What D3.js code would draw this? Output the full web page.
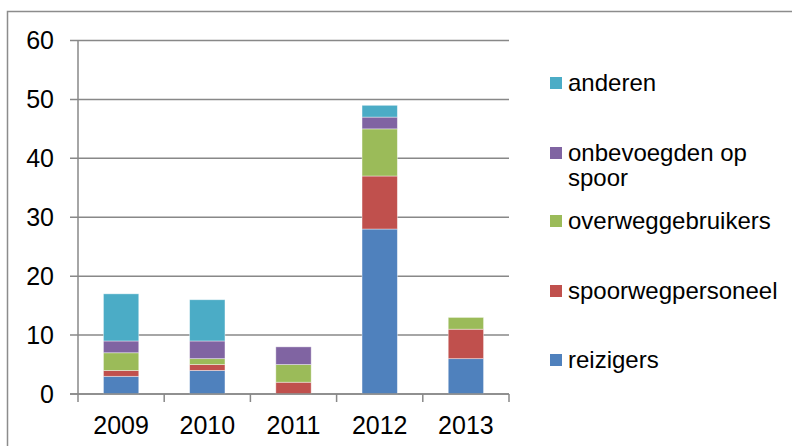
<!DOCTYPE html>
<html>
<head>
<meta charset="utf-8">
<script src="https://cdn.jsdelivr.net/npm/d3@7"></script>
<style>
  body { margin: 0; background: #fff; }
  svg { display: block; font-family: "Liberation Sans", Arial, sans-serif; }
</style>
</head>
<body>
<svg id="chart" width="792" height="446"></svg>
<script>
// data
const years = ["2009", "2010", "2011", "2012", "2013"];
const seriesNames = ["reizigers", "spoorwegpersoneel", "overweggebruikers", "onbevoegden op spoor", "anderen"];
const reizigers = [3, 4, 0, 28, 6];
const spoorwegpersoneel = [1, 1, 2, 9, 5];
const overweggebruikers = [3, 1, 3, 8, 2];
const onbevoegden = [2, 3, 3, 2, 0];
const anderen = [8, 7, 0, 2, 0];
const yTicks = [0, 10, 20, 30, 40, 50, 60];
const colors = ["#4F81BD", "#C0504D", "#9BBB59", "#8064A2", "#4BACC6"];

const rows = years.map((y, i) => ({
  year: y,
  "reizigers": reizigers[i],
  "spoorwegpersoneel": spoorwegpersoneel[i],
  "overweggebruikers": overweggebruikers[i],
  "onbevoegden op spoor": onbevoegden[i],
  "anderen": anderen[i]
}));

const svg = d3.select("#chart");
const fs = 24;     // legend
const axFs = 25;   // axis labels

// outer frame (runs off the right and bottom)
svg.append("rect")
  .attr("x", 7.5).attr("y", 11.5)
  .attr("width", 800).attr("height", 450)
  .attr("fill", "none").attr("stroke", "#8c8c8c").attr("stroke-width", 1.5);

const x = d3.scaleBand().domain(years).range([78, 509]).paddingInner(0.59).paddingOuter(0.295);
const y = d3.scaleLinear().domain([0, 60]).range([394, 40.5]);

// gridlines
svg.append("g")
  .selectAll("line")
  .data(yTicks)
  .join("line")
  .attr("x1", 70).attr("x2", 509)
  .attr("y1", d => y(d)).attr("y2", d => y(d))
  .attr("stroke", "#888").attr("stroke-width", 1.5);

// stacked bars
const stack = d3.stack().keys(seriesNames);
const layers = stack(rows);
svg.append("g")
  .selectAll("g")
  .data(layers)
  .join("g")
  .attr("fill", (d, i) => colors[i])
  .selectAll("rect")
  .data(d => d.filter(p => p[1] - p[0] > 0))
  .join("rect")
  .attr("x", d => x(d.data.year))
  .attr("width", x.bandwidth())
  .attr("y", d => y(d[1]))
  .attr("height", d => y(d[0]) - y(d[1]))
  .attr("stroke", "rgba(255,255,255,0.5)")
  .attr("stroke-width", 0.8);

// y axis
svg.append("line")
  .attr("x1", 78).attr("x2", 78).attr("y1", y(60)).attr("y2", 394)
  .attr("stroke", "#888").attr("stroke-width", 1.5);
svg.append("g")
  .selectAll("text")
  .data(yTicks)
  .join("text")
  .attr("x", 54).attr("y", d => y(d))
  .attr("dy", "0.35em")
  .attr("text-anchor", "end")
  .attr("font-size", axFs)
  .attr("fill", "#000")
  .text(d => d);

// x axis
svg.append("line")
  .attr("x1", 70).attr("x2", 509).attr("y1", 394).attr("y2", 394)
  .attr("stroke", "#888").attr("stroke-width", 1.5);
const edges = years.map((d, i) => 78 + i * (431 / 5)).concat([509]);
svg.append("g")
  .selectAll("line")
  .data(edges)
  .join("line")
  .attr("x1", d => d).attr("x2", d => d).attr("y1", 394).attr("y2", 402)
  .attr("stroke", "#888").attr("stroke-width", 1.5);
svg.append("g")
  .selectAll("text")
  .data(years)
  .join("text")
  .attr("x", d => x(d) + x.bandwidth() / 2)
  .attr("y", 434)
  .attr("text-anchor", "middle")
  .attr("font-size", axFs)
  .attr("fill", "#000")
  .text(d => d);

// legend (top to bottom: reverse order)
const legendItems = [
  { name: "anderen", lines: ["anderen"], c: colors[4], y: 83 },
  { name: "onbevoegden op spoor", lines: ["onbevoegden op", "spoor"], c: colors[3], y: 153 },
  { name: "overweggebruikers", lines: ["overweggebruikers"], c: colors[2], y: 221 },
  { name: "spoorwegpersoneel", lines: ["spoorwegpersoneel"], c: colors[1], y: 291 },
  { name: "reizigers", lines: ["reizigers"], c: colors[0], y: 360 }
];
const lg = svg.append("g").selectAll("g").data(legendItems).join("g");
lg.append("rect")
  .attr("x", 550).attr("y", d => d.y - 6)
  .attr("width", 12).attr("height", 12)
  .attr("fill", d => d.c);
lg.each(function(d) {
  d3.select(this).selectAll("text")
    .data(d.lines)
    .join("text")
    .attr("x", 568)
    .attr("y", (t, i) => d.y + i * 25)
    .attr("dy", "0.35em")
    .attr("font-size", fs)
    .attr("fill", "#000")
    .text(t => t);
});
</script>
</body>
</html>
